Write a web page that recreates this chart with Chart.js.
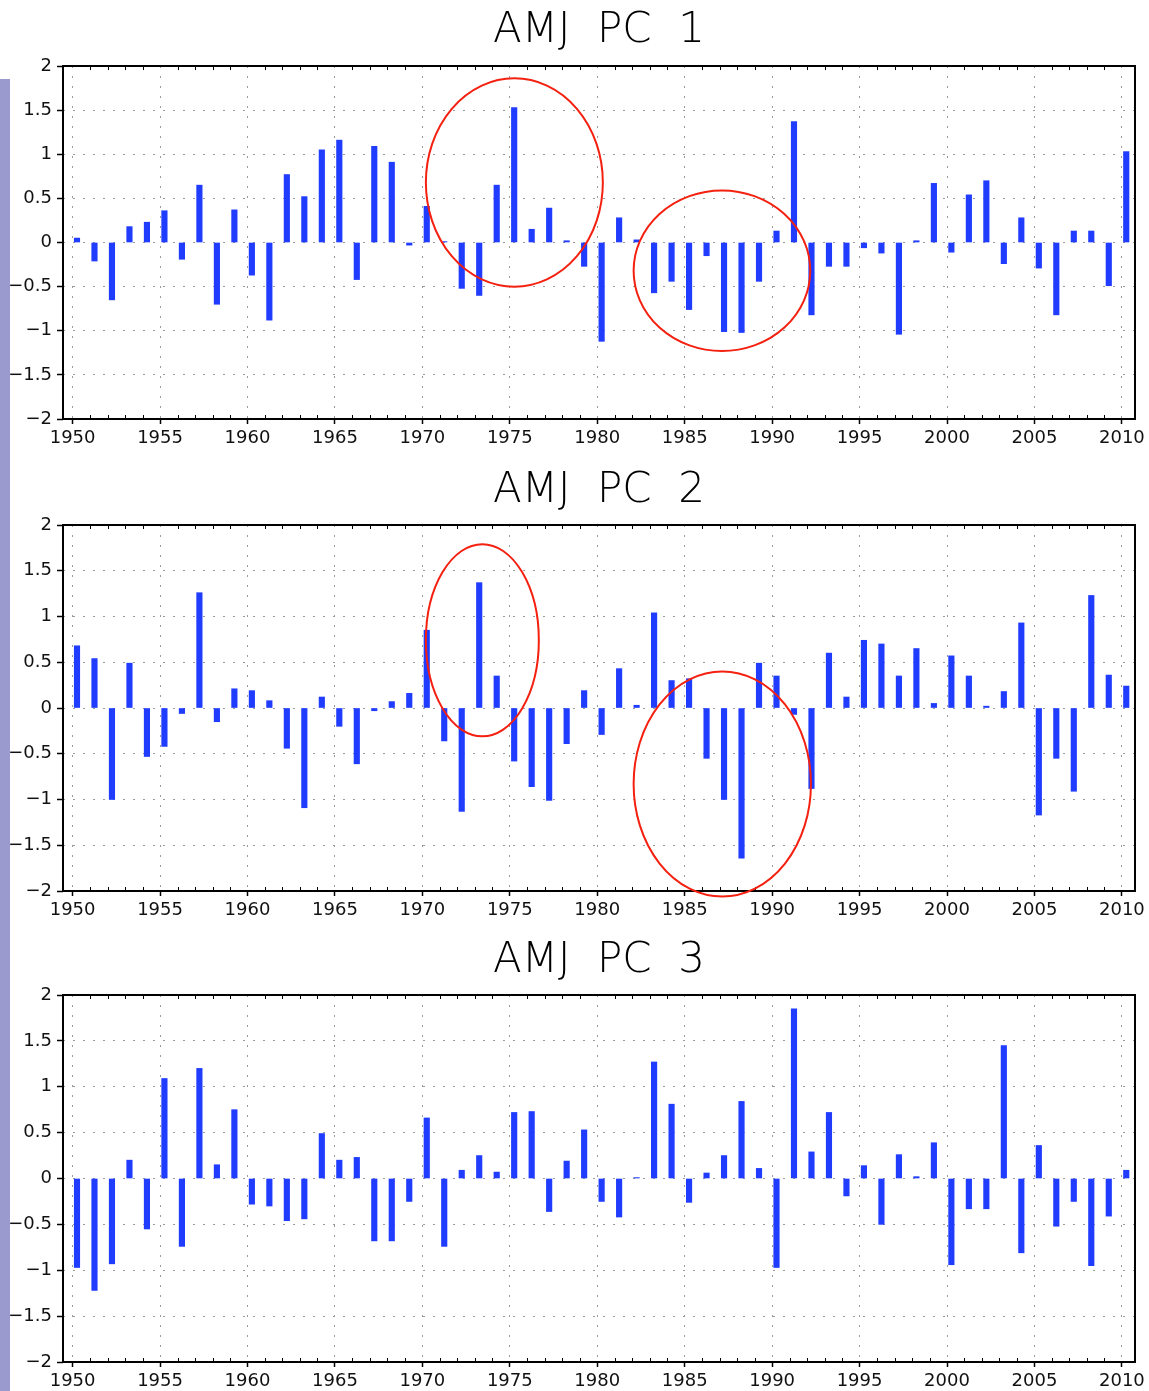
<!DOCTYPE html>
<html>
<head>
<meta charset="utf-8">
<script src="https://cdn.jsdelivr.net/npm/chart.js@4/dist/chart.umd.min.js"></script>
<style>
body { margin: 0; background: #fff; width: 1149px; height: 1391px; overflow: hidden; position: relative; }
.strip { position: absolute; left: 0; top: 79px; width: 10px; height: 1312px; background: #9a9ace; }
canvas { position: absolute; left: 0; }
</style>
</head>
<body>
<div class="strip"></div>
<canvas id="pc1" width="1149" height="455" style="top:0px"></canvas>
<canvas id="pc2" width="1149" height="467" style="top:460px"></canvas>
<canvas id="pc3" width="1149" height="468" style="top:930px"></canvas>
<script>
const years = [
  1950, 1951, 1952, 1953, 1954, 1955, 1956, 1957, 1958, 1959,
  1960, 1961, 1962, 1963, 1964, 1965, 1966, 1967, 1968, 1969,
  1970, 1971, 1972, 1973, 1974, 1975, 1976, 1977, 1978, 1979,
  1980, 1981, 1982, 1983, 1984, 1985, 1986, 1987, 1988, 1989,
  1990, 1991, 1992, 1993, 1994, 1995, 1996, 1997, 1998, 1999,
  2000, 2001, 2002, 2003, 2004, 2005, 2006, 2007, 2008, 2009,
  2010
]

const pc1 = [
  0.05, -0.21, -0.65, 0.18, 0.23, 0.36, -0.19, 0.65, -0.70, 0.37,
  -0.37, -0.88, 0.77, 0.52, 1.05, 1.16, -0.42, 1.09, 0.91, -0.03,
  0.41, 0.01, -0.52, -0.60, 0.65, 1.53, 0.15, 0.39, 0.02, -0.27,
  -1.12, 0.28, 0.03, -0.57, -0.44, -0.76, -0.15, -1.01, -1.02, -0.44,
  0.13, 1.37, -0.82, -0.27, -0.27, -0.06, -0.12, -1.04, 0.02, 0.67,
  -0.11, 0.54, 0.70, -0.24, 0.28, -0.29, -0.82, 0.13, 0.13, -0.49,
  1.03
]

const pc2 = [
  0.68, 0.54, -1.00, 0.49, -0.53, -0.42, -0.06, 1.26, -0.15, 0.21,
  0.19, 0.08, -0.44, -1.09, 0.12, -0.20, -0.61, -0.03, 0.07, 0.16,
  0.85, -0.36, -1.13, 1.37, 0.35, -0.58, -0.86, -1.01, -0.39, 0.19,
  -0.29, 0.43, 0.03, 1.04, 0.30, 0.32, -0.55, -1.00, -1.64, 0.49,
  0.35, -0.07, -0.88, 0.60, 0.12, 0.74, 0.70, 0.35, 0.65, 0.05,
  0.57, 0.35, 0.02, 0.18, 0.93, -1.17, -0.55, -0.91, 1.23, 0.36,
  0.24
]

const pc3 = [
  -0.97, -1.22, -0.93, 0.20, -0.55, 1.09, -0.74, 1.20, 0.15, 0.75,
  -0.28, -0.30, -0.46, -0.44, 0.49, 0.20, 0.23, -0.68, -0.68, -0.25,
  0.66, -0.74, 0.09, 0.25, 0.07, 0.72, 0.73, -0.36, 0.19, 0.53,
  -0.25, -0.42, 0.01, 1.27, 0.81, -0.26, 0.06, 0.25, 0.84, 0.11,
  -0.97, 1.85, 0.29, 0.72, -0.19, 0.14, -0.50, 0.26, 0.02, 0.39,
  -0.94, -0.33, -0.33, 1.45, -0.81, 0.36, -0.52, -0.25, -0.95, -0.41,
  0.09
]

// red rings: [centre year, centre value, half width in years, half height in value]
const rings1 = [[1975.26, 0.68, 5.06, 1.18], [1987.13, -0.32, 5.05, 0.91]]
const rings2 = [[1973.43, 0.74, 3.23, 1.05], [1987.15, -0.83, 5.07, 1.23]]

const barColor = "#203cff"
const ringColor = "#f42010"
const gridColor = "#9a9a9a"
const barShift = 0.25
const fontFamily = "'DejaVu Sans', sans-serif"

const framePlugin = {
    id: "frame",
    afterDraw(chart) {
        const { ctx, chartArea: a, scales: { x } } = chart
        ctx.save()
        ctx.strokeStyle = "#000"
        ctx.lineWidth = 1
        x.ticks.forEach(t => {
            if (t.value % 5 === 0) return
            const px = Math.round(x.getPixelForValue(t.value)) + 0.5
            ctx.beginPath()
            ctx.moveTo(px, a.bottom)
            ctx.lineTo(px, a.bottom - 4)
            ctx.moveTo(px, a.top)
            ctx.lineTo(px, a.top + 4)
            ctx.stroke()
        })
        ctx.lineWidth = 2
        ctx.strokeRect(a.left, a.top, a.right - a.left, a.bottom - a.top)
        ctx.restore()
    }
}

const ringPlugin = {
    id: "rings",
    afterDraw(chart, args, opts) {
        const { ctx, scales: { x, y } } = chart
        ;(opts.list || []).forEach(r => {
            const cx = x.getPixelForValue(r[0])
            const cy = y.getPixelForValue(r[1])
            const rx = x.getPixelForValue(r[0] + r[2]) - cx
            const ry = cy - y.getPixelForValue(r[1] + r[3])
            ctx.save()
            ctx.strokeStyle = ringColor
            ctx.lineWidth = 2
            ctx.beginPath()
            ctx.ellipse(cx, cy, rx, ry, 0, 0, Math.PI * 2)
            ctx.stroke()
            ctx.restore()
        })
    }
}

function makeChart(id, title, values, rings, titleGap) {
    new Chart(document.getElementById(id), {
        type: "bar",
        data: {
            datasets: [{
                data: years.map((yr, i) => ({ x: yr + barShift, y: values[i] })),
                backgroundColor: barColor,
                borderWidth: 0,
                barThickness: 5.5
            }]
        },
        options: {
            responsive: false,
            animation: false,
            layout: { padding: { left: 0, right: 14, top: 0, bottom: 0 } },
            plugins: {
                legend: { display: false },
                tooltip: { enabled: false },
                title: {
                    display: true,
                    text: title,
                    fullSize: false,
                    color: "#000",
                    font: { family: fontFamily, size: 42, weight: "200" },
                    padding: { top: 6, bottom: titleGap }
                },
                rings: { list: rings }
            },
            scales: {
                x: {
                    type: "linear",
                    min: 1949.45,
                    max: 2010.75,
                    offset: false,
                    afterFit: s => { s.height = 36 },
                    ticks: {
                        stepSize: 1,
                        includeBounds: false,
                        autoSkip: false,
                        maxRotation: 0,
                        padding: 4,
                        color: "#111",
                        font: { family: fontFamily, size: 18 },
                        callback: v => (v % 5 === 0 ? String(v) : "")
                    },
                    grid: {
                        offset: false,
                        color: c => (c.tick && c.tick.value % 5 === 0 ? gridColor : "rgba(0,0,0,0)"),
                        tickColor: c => (c.tick && c.tick.value % 5 === 0 ? "#000" : "rgba(0,0,0,0)"),
                        tickLength: 5,
                        tickWidth: 1.5
                    },
                    border: { display: false, dash: [2, 8] }
                },
                y: {
                    min: -2,
                    max: 2,
                    afterFit: s => { s.width = 63 },
                    ticks: {
                        stepSize: 0.5,
                        padding: 5,
                        color: "#111",
                        font: { family: fontFamily, size: 18 },
                        callback: v => String(v).replace("-", "\u2212")
                    },
                    grid: { color: gridColor, tickColor: "#000", tickLength: 6, tickWidth: 1.5 },
                    border: { display: false, dash: [2, 8] }
                }
            }
        },
        plugins: [framePlugin, ringPlugin]
    })
}

makeChart("pc1", "AMJ  PC  1", pc1, rings1, 9.6)
makeChart("pc2", "AMJ  PC  2", pc2, rings2, 8.6)
makeChart("pc3", "AMJ  PC  3", pc3, [], 8.6)
</script>
</body>
</html>
